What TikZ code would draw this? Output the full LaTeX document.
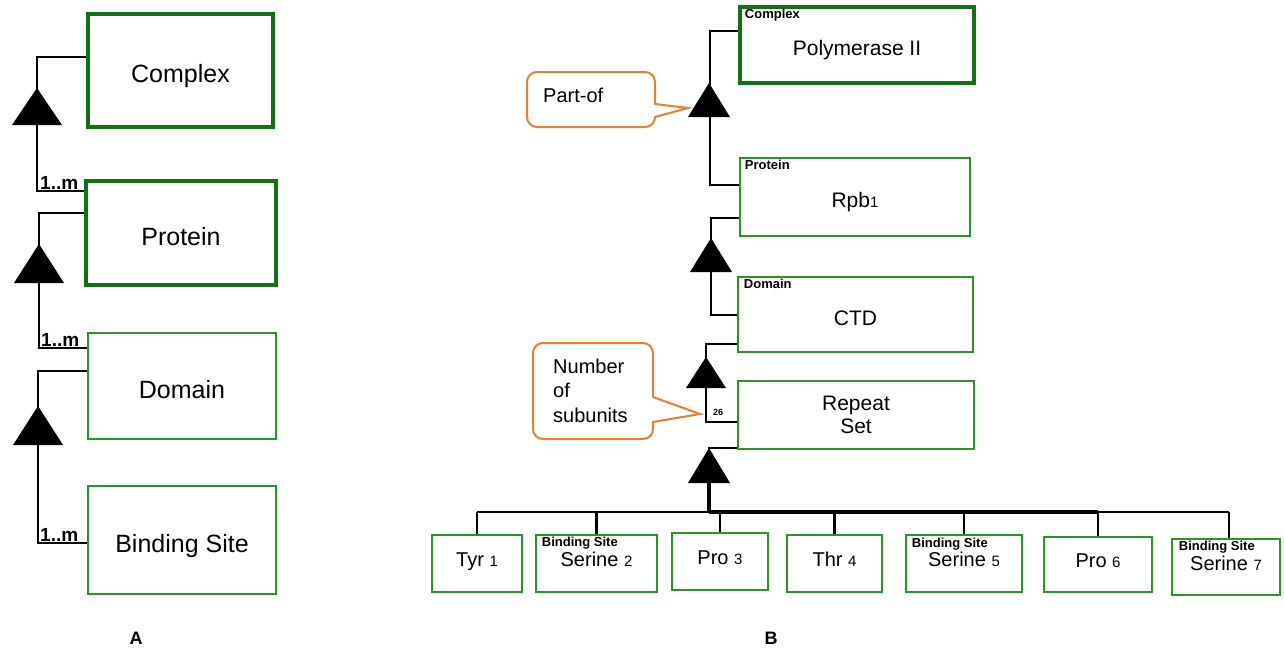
\documentclass[tikz,border=0pt]{standalone}
\usepackage{fontspec}
\setmainfont{Liberation Sans}
\usetikzlibrary{calc}
\definecolor{gthin}{RGB}{40,150,40}
\definecolor{gthick}{RGB}{15,115,15}
\definecolor{callo}{RGB}{228,128,48}
\newcommand{\od}[1]{{\fontsize{15}{15}\selectfont #1}}
\begin{document}
\begin{tikzpicture}[x=1pt,y=-1pt,
  thinbox/.style={draw=gthin,line width=2.5pt,inner sep=0pt,align=center},
  thickbox/.style={draw=gthick,line width=4.5pt,inner sep=0pt,align=center},
  conn/.style={draw=black,line width=2.8pt},
  tri/.style={fill=black},
  mult/.style={font=\bfseries\fontsize{19}{19}\selectfont,anchor=base west,inner sep=0pt},
  tag/.style={font=\bfseries\fontsize{13}{13}\selectfont,anchor=north west,inner sep=0pt},
  bigA/.style={font=\fontsize{25}{25}\selectfont,text height=24pt,text depth=0pt},
  midB/.style={font=\fontsize{21}{23}\selectfont},
  topB/.style={midB,text height=21pt,text depth=0pt},
  botB/.style={font=\fontsize{20}{22}\selectfont,text height=13pt,text depth=7pt},
  callout/.style={draw=callo,line width=2pt,line cap=round},
  ctext/.style={font=\fontsize{20}{24.5}\selectfont,inner sep=0pt,align=left},
  panel/.style={font=\bfseries\fontsize{18}{18}\selectfont}
]
\useasboundingbox (0,0) rectangle (1284,653);

% ---------------- Panel A ----------------
\node[thickbox,bigA,minimum width=185pt,minimum height=113pt] (complex) at (180.5,70.5) {Complex};
\node[thickbox,bigA,minimum width=190pt,minimum height=104pt] (protein) at (181,233) {Protein};
\node[thinbox,bigA,minimum width=188pt,minimum height=106pt] (domain) at (182,386) {Domain};
\node[thinbox,bigA,minimum width=188pt,minimum height=108pt] (bsite) at (182,540) {Binding Site};

\draw[conn] (complex.west |- 0,57) -- (37,57) -- (37,191) -- (protein.west |- 0,191);
\fill[tri] (37,88) -- (12,125) -- (62,125) -- cycle;
\node[mult] (m1) at (40,189) {1..m};

\draw[conn] (protein.west |- 0,213) -- (39,213) -- (39,348) -- (domain.west |- 0,348);
\fill[tri] (39,244) -- (14,283) -- (64,283) -- cycle;
\node[mult] (m2) at (41,346) {1..m};

\draw[conn] (domain.west |- 0,371) -- (38,371) -- (38,543) -- (bsite.west |- 0,543);
\fill[tri] (38,406) -- (13,445) -- (63,445) -- cycle;
\node[mult] (m3) at (40,541) {1..m};

\node[panel] (labA) at (136,638) {A};

% ---------------- Panel B ----------------
\node[thickbox,topB,minimum width=234pt,minimum height=76pt] (poly) at (857,45) {Polymerase II};
\node[tag] (polyTag) at ($(poly.north west)+(7,4)$) {Complex};

\node[thinbox,topB,minimum width=230pt,minimum height=78pt] (rpb) at (855,197) {Rpb\od{1}};
\node[tag] (rpbTag) at ($(rpb.north west)+(6,3)$) {Protein};

\node[thinbox,topB,minimum width=235pt,minimum height=75pt] (ctd) at (855.5,314.5) {CTD};
\node[tag] (ctdTag) at ($(ctd.north west)+(7,3)$) {Domain};

\node[thinbox,midB,minimum width=236pt,minimum height=68pt] (rset) at (856,415) {Repeat\\Set};

\draw[conn] (poly.west |- 0,31) -- (710,31) -- (710,185) -- (rpb.west |- 0,185);
\fill[tri] (709,83) -- (688,117) -- (730,117) -- cycle;

\draw[conn] (rpb.west |- 0,218) -- (711,218) -- (711,315) -- (ctd.west |- 0,315);
\fill[tri] (711,238) -- (690,272) -- (732,272) -- cycle;

\draw[conn] (ctd.west |- 0,344) -- (706,344) -- (706,422) -- (rset.west |- 0,422);
\fill[tri] (706,357) -- (686,388) -- (726,388) -- cycle;
\node[font=\bfseries\fontsize{9}{9}\selectfont,inner sep=0pt] (n26) at (718,412) {26};

% bottom row
\node[thinbox,botB,minimum width=90pt,minimum height=57pt] (tyr) at (477,563.5) {Tyr \od{1}};
\node[thinbox,botB,minimum width=121pt,minimum height=57pt] (ser2) at (596.5,563.5) {Serine \od{2}};
\node[tag] (ser2Tag) at ($(ser2.north west)+(7,3)$) {Binding Site};
\node[thinbox,botB,minimum width=96pt,minimum height=57pt] (pro3) at (720,561.5) {Pro \od{3}};
\node[thinbox,botB,minimum width=95pt,minimum height=57pt] (thr4) at (834.5,563.5) {Thr \od{4}};
\node[thinbox,botB,minimum width=116pt,minimum height=57pt] (ser5) at (964,563.5) {Serine \od{5}};
\node[tag] (ser5Tag) at ($(ser5.north west)+(7,4)$) {Binding Site};
\node[thinbox,botB,minimum width=108pt,minimum height=55pt] (pro6) at (1098,564.5) {Pro \od{6}};
\node[thinbox,botB,minimum width=108pt,minimum height=56pt] (ser7) at (1226,567) {Serine \od{7}};
\node[tag] (ser7Tag) at ($(ser7.north west)+(8,3)$) {Binding Site};

\coordinate (bus) at (709,512);
\coordinate (s7drop) at ($(ser7.north)+(3,0)$);
\draw[conn] (rset.west |- 0,448) -- (709,448) -- (709,483);
\fill[tri] (709,448) -- (688,483) -- (730,483) -- cycle;
\draw[line width=4pt] (709,483) -- (bus);
\draw[conn] (tyr.north |- bus) -- (s7drop |- bus);
\draw[line width=4pt] (bus) -- (pro6.north |- bus);
\foreach \b in {tyr,ser2,pro3,thr4,ser5,pro6}
  \draw[conn] (\b.north |- bus) -- (\b.north);
\draw[conn] (s7drop |- bus) -- (s7drop);

% callouts
\node[ctext,anchor=base west] (partof) at (543,102) {Part-of};
\draw[callout,rounded corners=10pt] (655,104) -- (655,72) -- (527,72) -- (527,127) -- (655,127) -- (655,117);
\draw[callout,line join=miter] (655,104) -- (688,108) -- (655,117);

\node[ctext,anchor=north west] (nsub) at (553,358.5) {Number\\of\\subunits};
\draw[callout,rounded corners=10pt] (653,397) -- (653,343) -- (533,343) -- (533,439) -- (653,439) -- (653,422);
\draw[callout,line join=miter] (653,397) -- (700,414) -- (653,422);

\node[panel] (labB) at (771,638) {B};
\end{tikzpicture}
\end{document}
